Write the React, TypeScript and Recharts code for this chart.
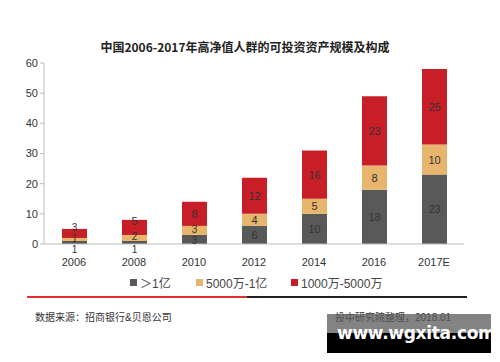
import { BarChart, Bar, XAxis, YAxis, LabelList } from "recharts";

// 中国高净值人群可投资资产规模及构成（万亿元）
const years = ["2006", "2008", "2010", "2012", "2014", "2016", "2017E"];
const over100m = [1, 1, 3, 6, 10, 18, 23];
const from50mTo100m = [1, 2, 3, 4, 5, 8, 10];
const from10mTo50m = [3, 5, 8, 12, 16, 23, 25];
const yTicks = [0, 10, 20, 30, 40, 50, 60];

const data = years.map((year, i) => ({
  year,
  a: over100m[i],
  b: from50mTo100m[i],
  c: from10mTo50m[i],
}));

const GREY = "#595959";
const TAN = "#E8B56C";
const RED = "#C81E28";
const FONT = "'Liberation Sans', Arial, 'Noto Sans CJK SC', sans-serif";

// small segments get their label nudged, like the original
const makeLabel = (kind: "a" | "b" | "c") => (props: any) => {
  const { x, y, width, height, value } = props;
  const top = Number(y);
  const h = Number(height);
  const cx = Number(x) + Number(width) / 2;
  let cy = top + h / 2;
  const size = h < 10 ? 10 : 11;
  if (kind === "a") {
    if (h < 6) cy = top + h + 5;
    else if (h < 10) cy += 1;
  }
  if (kind === "b" && h < 10) cy -= 1;
  if (kind === "c") {
    if (h < 12) cy = top - 1;
    else if (h < 20) cy = top + 1;
  }
  return (
    <text x={cx} y={cy} textAnchor="middle" dominantBaseline="central" fontSize={size} fill="#333" fontFamily={FONT}>
      {value}
    </text>
  );
};

const LegendItem = ({ color, text, left }: { color: string; text: string; left: number }) => (
  <div style={{ position: "absolute", left, top: 274, display: "flex", alignItems: "center", fontSize: 12, color: "#444" }}>
    <span style={{ width: 7, height: 7, background: color, marginRight: 3, display: "inline-block" }} />
    {text}
  </div>
);

export default function App() {
  return (
    <div
      style={{
        position: "absolute",
        left: 0,
        top: 0,
        width: 500,
        height: 362,
        background: "#fff",
        fontFamily: FONT,
        overflow: "hidden",
      }}
    >
      <div
        style={{
          position: "absolute",
          top: 38,
          width: 490,
          textAlign: "center",
          fontSize: 12,
          fontWeight: "bold",
          color: "#222",
          fontFamily: "'Noto Sans CJK SC', sans-serif",
        }}
      >
        中国2006-2017年高净值人群的可投资资产规模及构成
      </div>

      <BarChart
        width={500}
        height={280}
        data={data}
        margin={{ top: 63, right: 36, left: 8, bottom: 6 }}
        style={{ position: "absolute", left: 0, top: 0 }}
      >
        <XAxis
          dataKey="year"
          height={30}
          tickLine={false}
          axisLine={{ stroke: "#bbb" }}
          tick={{ fontSize: 11, fill: "#333", fontFamily: FONT }}
          tickMargin={8}
        />
        <YAxis
          width={36}
          domain={[0, 60]}
          ticks={yTicks}
          axisLine={{ stroke: "#bbb" }}
          tickLine={{ stroke: "#bbb" }}
          tickSize={4}
          tick={{ fontSize: 11, fill: "#333", fontFamily: FONT }}
        />
        <Bar dataKey="a" stackId="s" fill={GREY} barSize={25} isAnimationActive={false}>
          <LabelList dataKey="a" content={makeLabel("a")} />
        </Bar>
        <Bar dataKey="b" stackId="s" fill={TAN} barSize={25} isAnimationActive={false}>
          <LabelList dataKey="b" content={makeLabel("b")} />
        </Bar>
        <Bar dataKey="c" stackId="s" fill={RED} barSize={25} isAnimationActive={false}>
          <LabelList dataKey="c" content={makeLabel("c")} />
        </Bar>
      </BarChart>

      <LegendItem color={GREY} text="＞1亿" left={130} />
      <LegendItem color={TAN} text="5000万-1亿" left={196} />
      <LegendItem color={RED} text="1000万-5000万" left={291} />

      <div style={{ position: "absolute", left: 27, top: 296, width: 220, height: 2, background: "#E03030" }} />
      <div style={{ position: "absolute", left: 247, top: 296, width: 220, height: 2, background: "#222" }} />

      <div style={{ position: "absolute", left: 35, top: 309, fontSize: 10, color: "#333" }}>
        数据来源：招商银行&amp;贝恩公司
      </div>
      <div style={{ position: "absolute", left: 335, top: 309, fontSize: 10, color: "#333" }}>
        投中研究院整理，2018.01
      </div>

      <div style={{ position: "absolute", left: 327, top: 314, width: 164, height: 19, background: "rgba(90,90,90,0.75)" }} />
      <div
        style={{
          position: "absolute",
          left: 327,
          top: 333,
          width: 164,
          height: 20,
          background: "#000",
        }}
      />
      <div
        style={{
          position: "absolute",
          left: 337,
          top: 323,
          fontSize: 17,
          fontWeight: "bold",
          color: "#fff",
          fontFamily: "'DejaVu Sans', sans-serif",
          letterSpacing: -0.3,
        }}
      >
        www.wgxita.com
      </div>
    </div>
  );
}
